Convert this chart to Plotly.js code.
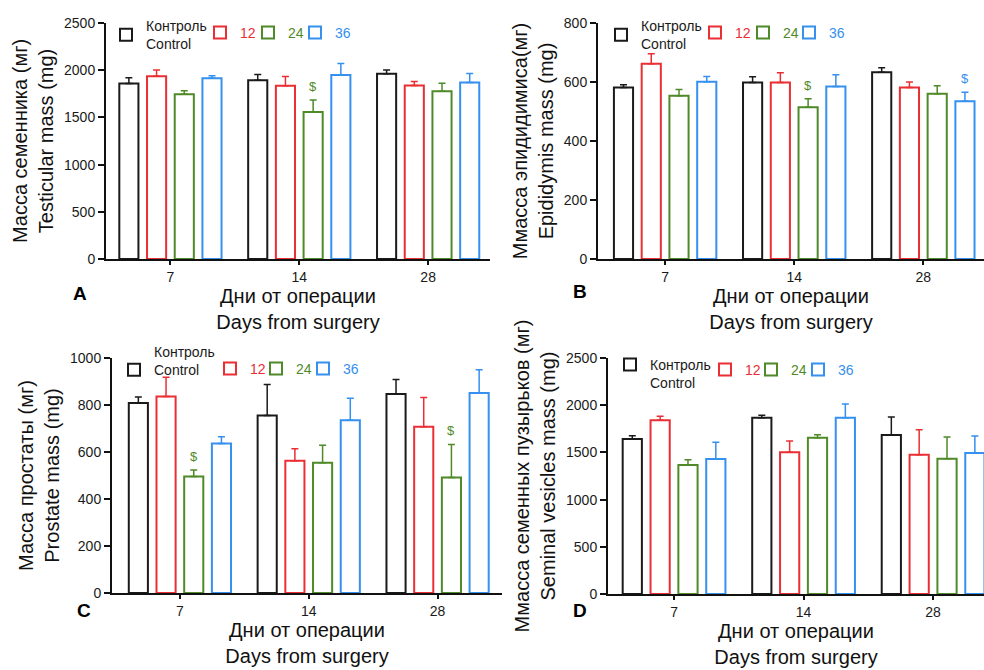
<!DOCTYPE html>
<html><head><meta charset="utf-8">
<script src="https://cdn.plot.ly/plotly-3.0.1.min.js"></script>
<style>html,body{margin:0;padding:0;background:#fff;overflow:hidden}#chart{width:984px;height:670px}</style>
</head><body><div id="chart"></div>
<script>
// ---------- data ----------
const days = ['7', '14', '28'];
const groupNames = ['Контроль<br>Control', '12', '24', '36'];
const groupColors = ['#1a1a1a', '#ea2f34', '#4f8a28', '#3590ee'];

// rows: Control, 12, 24, 36 ; columns: days 7, 14, 28
// A – testicular mass (mg)
const testisMean = [[1859, 1894, 1962], [1936, 1834, 1839], [1746, 1556, 1776], [1915, 1950, 1871]];
const testisErr  = [[60, 60, 40], [67, 100, 40], [35, 127, 85], [25, 120, 95]];
// B – epididymis mass (mg)
const epidMean = [[581, 598, 633], [662, 598, 581], [553, 514, 560], [601, 585, 535]];
const epidErr  = [[10, 20, 15], [34, 33, 19], [22, 29, 27], [18, 40, 30]];
// C – prostate mass (mg)
const prostMean = [[809, 755, 847], [836, 563, 707], [496, 554, 492], [636, 735, 851]];
const prostErr  = [[25, 132, 62], [82, 51, 125], [27, 75, 140], [29, 94, 99]];
// D – seminal vesicles mass (mg)
const vesMean = [[1642, 1868, 1684], [1840, 1501, 1476], [1367, 1656, 1434], [1430, 1868, 1494]];
const vesErr  = [[35, 25, 191], [42, 120, 265], [56, 32, 229], [177, 145, 180]];

// significance marks "$": [group index, day index]
const testisSig = [[2, 1]];
const epidSig = [[2, 1], [3, 2]];
const prostSig = [[2, 0], [2, 2]];
const vesSig = [];

const yTitles = [
  'Масса семенника (мг)<br>Testicular mass (mg)',
  'Ммасса эпидидимиса(мг)<br>Epididymis mass (mg)',
  'Масса простаты (мг)<br>Prostate mass (mg)',
  'Ммасса семенных пузырьков (мг)<br>Seminal vesicles mass (mg)'
];
const xTitle = 'Дни от операции<br>Days from surgery';
const panelLetters = ['A', 'B', 'C', 'D'];

// ---------- layout geometry ----------
const W = 984, H = 670;
const FONT = 'Liberation Sans, Arial, sans-serif';
const BARGAP = 0.14, GROUPGAP = 0.31;
const panels = [
  {mean: testisMean, err: testisErr, sig: testisSig, ymax: 2500, dtick: 500, px: [106, 490], py: [23, 259], xr: [-0.5, 2.48],
   legX: [120, 214, 262, 309], legTop: [10, 17], legV: 'middle', letter: [80, 293], xso: 0},
  {mean: epidMean, err: epidErr, sig: epidSig, ymax: 800, dtick: 200, px: [598, 984], py: [23, 259], xr: [-0.52, 2.47],
   legX: [615, 709, 757, 803], legTop: [10, 17], legV: 'middle', letter: [580, 292], xso: 3},
  {mean: prostMean, err: prostErr, sig: prostSig, ymax: 1000, dtick: 200, px: [112, 502], py: [358, 593], xr: [-0.527, 2.5],
   legX: [128, 224, 270, 317], legTop: [336, 353], legV: 'bottom', letter: [84, 610], xso: 5},
  {mean: vesMean, err: vesErr, sig: vesSig, ymax: 2500, dtick: 500, px: [608, 984], py: [358, 594], xr: [-0.51, 2.393],
   legX: [624, 719, 765, 812], legTop: [349, 354], legV: 'top', letter: [580, 610], xso: 5}
];

const traces = [];
const annotations = [];
const layout = {
  width: W, height: H,
  margin: {l: 0, r: 0, t: 0, b: 0},
  paper_bgcolor: '#fff', plot_bgcolor: '#fff',
  font: {family: FONT, color: '#1a1a1a', size: 14},
  barmode: 'group', bargap: BARGAP, bargroupgap: GROUPGAP,
  showlegend: true,
  annotations: annotations
};

const slot = (1 - BARGAP) / groupNames.length;
let legCount = 0;

panels.forEach((p, k) => {
  const sfx = k === 0 ? '' : String(k + 1);
  const xa = 'x' + sfx, ya = 'y' + sfx;
  groupNames.forEach((g, i) => {
    legCount += 1;
    const lg = legCount === 1 ? 'legend' : 'legend' + legCount;
    traces.push({
      type: 'bar',
      x: days,
      y: p.mean[i],
      name: '<span style="color:' + groupColors[i] + '">' + g + '</span>',
      xaxis: xa, yaxis: ya, legend: lg,
      marker: {color: '#ffffff', line: {color: groupColors[i], width: 2}},
      error_y: {type: 'data', symmetric: false, array: p.err[i], arrayminus: p.err[i].map(() => 0),
                color: groupColors[i], thickness: 1.5, width: 3.5},
      hoverinfo: 'skip'
    });
    layout[lg] = {
      orientation: 'h',
      x: (p.legX[i] - 14) / W,
      y: (H - (i === 0 ? p.legTop[0] : p.legTop[1])) / H,
      xanchor: 'left', yanchor: 'top', valign: p.legV,
      bgcolor: 'rgba(0,0,0,0)', font: {size: 14, family: FONT},
      itemclick: false, itemdoubleclick: false
    };
  });
  layout['xaxis' + sfx] = {
    domain: [p.px[0] / W, p.px[1] / W], anchor: ya, type: 'category',
    range: p.xr, showline: true, linecolor: '#111', linewidth: 2,
    ticks: 'outside', ticklen: 4, tickwidth: 2, tickcolor: '#111',
    tickfont: {size: 14, color: '#1a1a1a'},
    showgrid: false, zeroline: false, fixedrange: true,
    title: {text: xTitle, font: {size: 20, color: '#111'}, standoff: p.xso}
  };
  layout['yaxis' + sfx] = {
    domain: [(H - p.py[1]) / H, (H - p.py[0]) / H], anchor: xa,
    range: [0, p.ymax], dtick: p.dtick, tick0: 0,
    showline: true, linecolor: '#111', linewidth: 2,
    ticks: 'outside', ticklen: 6, tickwidth: 2, tickcolor: '#111',
    tickfont: {size: 14, color: '#1a1a1a'},
    showgrid: false, zeroline: false, fixedrange: true,
    title: {text: yTitles[k], font: {size: 20, color: '#111'}, standoff: 5}
  };
  annotations.push({
    xref: 'paper', yref: 'paper', x: p.letter[0] / W, y: (H - p.letter[1]) / H,
    text: '<b>' + panelLetters[k] + '</b>', showarrow: false,
    font: {size: 19, family: FONT, color: '#000'}, xanchor: 'center', yanchor: 'middle'
  });
  p.sig.forEach(([gi, di]) => {
    annotations.push({
      xref: xa, yref: ya,
      x: di - (1 - BARGAP) / 2 + slot * (gi + 0.5),
      y: p.mean[gi][di] + p.err[gi][di],
      text: '$', showarrow: false, yanchor: 'bottom', yshift: 4,
      font: {size: 13, family: FONT, color: groupColors[gi]}
    });
  });
});

Plotly.newPlot('chart', traces, layout, {staticPlot: true, displayModeBar: false});
</script>
</body></html>
